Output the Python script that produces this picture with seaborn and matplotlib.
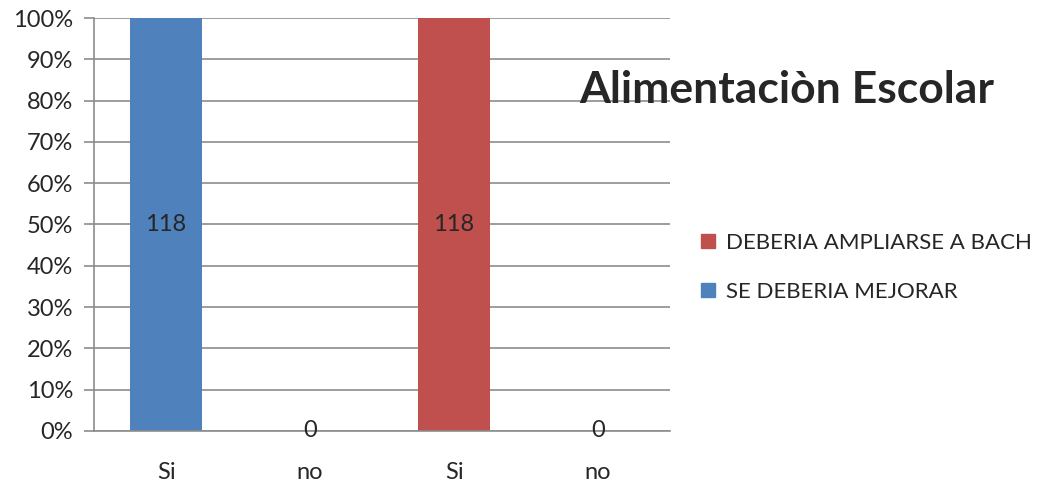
import matplotlib
matplotlib.use("Agg")
import matplotlib.pyplot as plt
import matplotlib.patches as mpatches
from matplotlib.ticker import PercentFormatter, FixedLocator
import numpy as np
import pandas as pd
import seaborn as sns

# data
categories = ["Si", "no", "Si ", "no "]
mejorar = [118, 0, np.nan, np.nan]      # SE DEBERIA MEJORAR
ampliarse = [np.nan, np.nan, 118, 0]    # DEBERIA AMPLIARSE A BACH
series_names = ["SE DEBERIA MEJORAR", "DEBERIA AMPLIARSE A BACH"]
colors = ["#4F81BD", "#C0504D"]

rows = []
for name, vals in zip(series_names, [mejorar, ampliarse]):
    for cat, v in zip(categories, vals):
        if not np.isnan(v):
            rows.append({"cat": cat, "serie": name, "value": v})
df = pd.DataFrame(rows)
totals = df.groupby("cat")["value"].transform("sum")
df["pct"] = np.where(totals > 0, df["value"] / totals.replace(0, 1) * 100, 0)

sns.set_style("white")
plt.rcParams["font.family"] = ["Lato", "DejaVu Sans"]

fig = plt.figure(figsize=(10.38, 4.83), dpi=100)
ax = fig.add_axes([0.0906, 0.1077, 0.5549, 0.855])

sns.barplot(data=df, x="cat", y="pct", hue="serie", order=categories,
            hue_order=series_names, palette=colors, dodge=False, width=0.5,
            saturation=1, linewidth=0, ax=ax, legend=False)

# data labels
for cont, name in zip(ax.containers, series_names):
    sub = df[df["serie"] == name]
    labels = [f"{int(v)}" for v in sub["value"]]
    ax.bar_label(cont, labels=labels, label_type="center", fontsize=17)

ax.set_xlim(-0.5, 3.5)
ax.set_ylim(0, 100)
ax.yaxis.set_major_locator(FixedLocator(np.arange(0, 101, 10)))
ax.yaxis.set_major_formatter(PercentFormatter(decimals=0))
ax.grid(axis="y", color="#8C8C8C", linewidth=1.2)
ax.set_axisbelow(True)
ax.set_xlabel("")
ax.set_ylabel("")
ax.set_xticks(range(4))
ax.set_xticklabels(["Si", "no", "Si", "no"])
ax.set_xticks([-0.5, 0.5, 1.5, 2.5, 3.5], minor=True)
ax.tick_params(axis="x", which="major", length=0, pad=22, labelsize=17)
ax.tick_params(axis="x", which="minor", length=7, width=1.2,
               color="#8C8C8C", direction="out")
ax.tick_params(axis="y", length=7, width=1.2, color="#8C8C8C",
               direction="out", pad=8, labelsize=17, left=True)
for side in ["top", "right"]:
    ax.spines[side].set_visible(False)
for side in ["left", "bottom"]:
    ax.spines[side].set_color("#8C8C8C")
    ax.spines[side].set_linewidth(1.2)

fig.text(0.5585, 0.813, "Alimentaciòn Escolar", fontsize=32,
         fontweight="bold", va="center", ha="left")

handles = [mpatches.Patch(color=colors[1], label=series_names[1]),
           mpatches.Patch(color=colors[0], label=series_names[0])]
fig.legend(handles=handles, loc="center left", bbox_to_anchor=(0.665, 0.447),
           frameon=False, fontsize=16, handlelength=0.6, handleheight=0.6,
           handletextpad=0.5, labelspacing=1.3, borderpad=0)

fig.savefig("out.png", dpi=100)
